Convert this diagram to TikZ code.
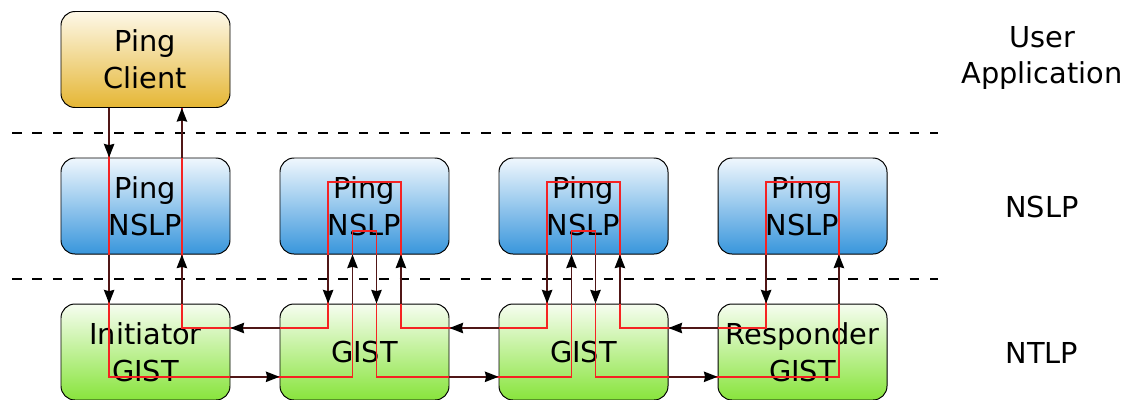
\documentclass[tikz,border=0pt]{standalone}
\usepackage{fontspec}
\setmainfont{DejaVu Sans}
\usepackage{tikz}
\usetikzlibrary{arrows.meta,calc}
\definecolor{clientTop}{RGB}{253,248,232}
\definecolor{clientBottom}{RGB}{229,182,52}
\definecolor{nslpTop}{RGB}{240,247,253}
\definecolor{nslpBottom}{RGB}{56,150,220}
\definecolor{gistTop}{RGB}{246,253,240}
\definecolor{gistBottom}{RGB}{136,228,60}
\definecolor{arrowLine}{RGB}{80,22,22}
\definecolor{traceRed}{RGB}{245,35,35}
\tikzset{
	layer box/.style={
		rectangle,
		rounded corners=0.35cm,
		draw=black,
		line width=0.7pt,
		minimum width=4.225cm,
		minimum height=2.4cm,
		align=center,
		font=\fontsize{20.5}{26.3}\selectfont
	},
	client box/.style={
		layer box,
		top color=clientTop,
		bottom color=clientBottom
	},
	nslp box/.style={
		layer box,
		top color=nslpTop,
		bottom color=nslpBottom
	},
	gist box/.style={
		layer box,
		top color=gistTop,
		bottom color=gistBottom
	},
	layer label/.style={
		align=center,
		font=\fontsize{20.5}{25.6}\selectfont
	},
	layer line/.style={
		line width=0.9pt,
		dash pattern=on 0.24cm off 0.27cm
	},
	msg arrow/.style={
		draw=arrowLine,
		line width=1.2pt,
		-{Stealth[length=3.4mm,width=2.6mm,inset=0.3mm,black]}
	},
	msg trace/.style={
		draw=traceRed,
		line width=1pt
	},
}

\begin{document}
\begin{tikzpicture}
\useasboundingbox (0,0) rectangle (28.175,-9.975);

%layer separators
\coordinate (sepAppL) at (0.3,-3.325);
\coordinate (sepAppR) at (23.45,-3.325);
\coordinate (sepNslpL) at (0.3,-6.975);
\coordinate (sepNslpR) at (23.45,-6.975);
\draw[layer line] (sepAppL) -- (sepAppR);
\draw[layer line] (sepNslpL) -- (sepNslpR);

\node[client box] (pingClient) at (3.6375,-1.4875) {Ping\\Client};
	\node[nslp box] (nslpInit) at (3.6375,-5.15) {Ping\\NSLP};
	\node[nslp box] (nslpFwdA) at (9.1125,-5.15) {Ping\\NSLP};
	\node[nslp box] (nslpFwdB) at (14.5875,-5.15) {Ping\\NSLP};
	\node[nslp box] (nslpResp) at (20.0625,-5.15) {Ping\\NSLP};
		\node[gist box] (gistInit) at (3.6375,-8.8) {Initiator\\GIST};
		\node[gist box] (gistFwdA) at (9.1125,-8.8) {GIST};
		\node[gist box] (gistFwdB) at (14.5875,-8.8) {GIST};
		\node[gist box] (gistResp) at (20.0625,-8.8) {Responder\\GIST};

\node[layer label] (labelApp) at (26.05,-1.45) {User\\Application};
\node[layer label] (labelNslp) at (26.05,-5.175) {NSLP};
\node[layer label] (labelNtlp) at (26.05,-8.825) {NTLP};

%message path
\draw[msg trace] ($(pingClient.south)+(-0.91,0)$)
	-- ($(gistInit)+(-0.91,-0.62)$)
	-- ($(gistFwdA)+(-0.3,-0.62)$)
	-- ($(nslpFwdA)+(-0.3,-0.62)$)
	-- ($(nslpFwdA)+(0.3,-0.62)$)
	-- ($(gistFwdA)+(0.3,-0.62)$)
	-- ($(gistFwdB)+(-0.3,-0.62)$)
	-- ($(nslpFwdB)+(-0.3,-0.62)$)
	-- ($(nslpFwdB)+(0.3,-0.62)$)
	-- ($(gistFwdB)+(0.3,-0.62)$)
	-- ($(gistResp)+(0.91,-0.62)$)
	-- ($(nslpResp)+(0.91,0.6)$)
	-- ($(nslpResp)+(-0.91,0.6)$)
	-- ($(gistResp)+(-0.91,0.6)$)
	-- ($(gistFwdB)+(0.91,0.6)$)
	-- ($(nslpFwdB)+(0.91,0.6)$)
	-- ($(nslpFwdB)+(-0.91,0.6)$)
	-- ($(gistFwdB)+(-0.91,0.6)$)
	-- ($(gistFwdA)+(0.91,0.6)$)
	-- ($(nslpFwdA)+(0.91,0.6)$)
	-- ($(nslpFwdA)+(-0.91,0.6)$)
	-- ($(gistFwdA)+(-0.91,0.6)$)
	-- ($(gistInit)+(0.91,0.6)$)
	-- ($(pingClient.south)+(0.91,0)$);

\draw[msg arrow] ($(pingClient.south)+(-0.91,0)$) -- ($(nslpInit.north)+(-0.91,0)$);
\draw[msg arrow] ($(nslpInit.north)+(0.91,0)$) -- ($(pingClient.south)+(0.91,0)$);
\draw[msg arrow] ($(nslpInit.south)+(-0.91,0)$) -- ($(gistInit.north)+(-0.91,0)$);
\draw[msg arrow] ($(gistInit.north)+(0.91,0)$) -- ($(nslpInit.south)+(0.91,0)$);

\draw[msg arrow] ($(gistInit.east)+(0,-0.62)$) -- ($(gistFwdA.west)+(0,-0.62)$);
\draw[msg arrow] ($(gistFwdA.west)+(0,0.6)$) -- ($(gistInit.east)+(0,0.6)$);
\draw[msg arrow] ($(nslpFwdA.south)+(-0.91,0)$) -- ($(gistFwdA.north)+(-0.91,0)$);
\draw[msg arrow] ($(gistFwdA.north)+(-0.3,0)$) -- ($(nslpFwdA.south)+(-0.3,0)$);
\draw[msg arrow] ($(nslpFwdA.south)+(0.3,0)$) -- ($(gistFwdA.north)+(0.3,0)$);
\draw[msg arrow] ($(gistFwdA.north)+(0.91,0)$) -- ($(nslpFwdA.south)+(0.91,0)$);

\draw[msg arrow] ($(gistFwdA.east)+(0,-0.62)$) -- ($(gistFwdB.west)+(0,-0.62)$);
\draw[msg arrow] ($(gistFwdB.west)+(0,0.6)$) -- ($(gistFwdA.east)+(0,0.6)$);
\draw[msg arrow] ($(nslpFwdB.south)+(-0.91,0)$) -- ($(gistFwdB.north)+(-0.91,0)$);
\draw[msg arrow] ($(gistFwdB.north)+(-0.3,0)$) -- ($(nslpFwdB.south)+(-0.3,0)$);
\draw[msg arrow] ($(nslpFwdB.south)+(0.3,0)$) -- ($(gistFwdB.north)+(0.3,0)$);
\draw[msg arrow] ($(gistFwdB.north)+(0.91,0)$) -- ($(nslpFwdB.south)+(0.91,0)$);

\draw[msg arrow] ($(gistFwdB.east)+(0,-0.62)$) -- ($(gistResp.west)+(0,-0.62)$);
\draw[msg arrow] ($(gistResp.west)+(0,0.6)$) -- ($(gistFwdB.east)+(0,0.6)$);
\draw[msg arrow] ($(nslpResp.south)+(-0.91,0)$) -- ($(gistResp.north)+(-0.91,0)$);
\draw[msg arrow] ($(gistResp.north)+(0.91,0)$) -- ($(nslpResp.south)+(0.91,0)$);

\end{tikzpicture}
\end{document}
